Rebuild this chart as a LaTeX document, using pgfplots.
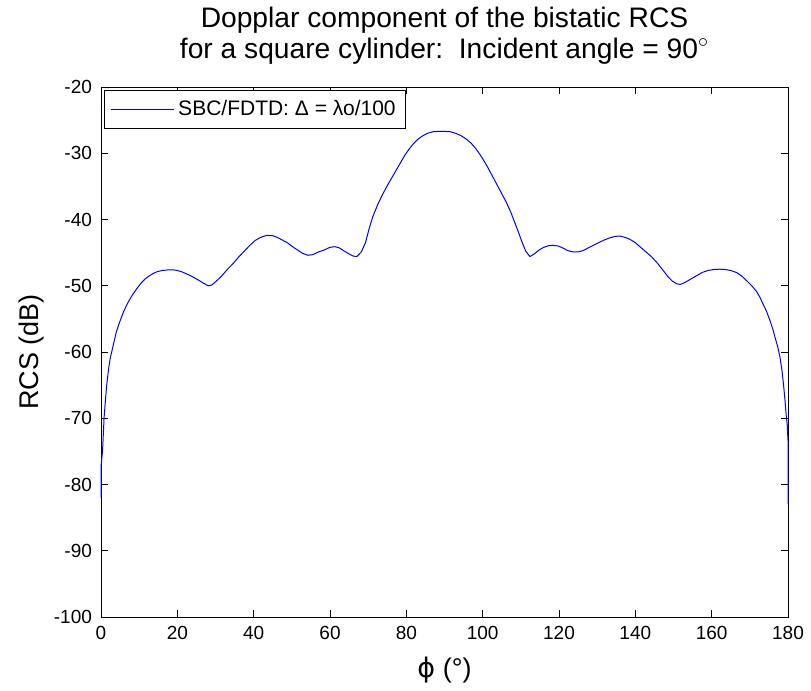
\documentclass[border=0pt]{standalone}
\usepackage{fontspec}
\setmainfont{Liberation Sans}
\newfontfamily\dejavu{DejaVu Sans}
\usepackage{pgfplots}
\pgfplotsset{compat=1.18}

\begin{document}
\begin{tikzpicture}
\begin{axis}[
  scale only axis,
  width=343.5pt, height=265pt,
  xmin=0, xmax=180, ymin=-100, ymax=-20,
  xtick={0,20,...,180},
  ytick={-100,-90,...,-20},
  tick align=inside,
  major tick length=3.5pt,
  clip=false,
  axis line style={line width=0.5pt},
  every tick/.style={black, line width=0.5pt},
  /pgf/number format/assume math mode=true,
  tick label style={font=\fontsize{9.5}{11}\selectfont},
  xticklabel style={yshift=-1pt},
  yticklabel style={xshift=-1pt},
  label style={font=\fontsize{13.5}{16}\selectfont},
  xlabel={{\dejavu ϕ} (°)},
  ylabel={RCS (dB)},
  xlabel style={yshift=-2pt},
  ylabel style={yshift=-2pt},
  title style={font=\fontsize{14.1}{15.5}\selectfont, align=center, yshift=2pt},
  title={Dopplar component of the bistatic RCS\\for a square cylinder:\ \ Incident angle = 90\textsuperscript{$\circ$}},
  legend style={at={(0.004,0.994)}, anchor=north west, draw=black, line width=0.5pt,
    font=\fontsize{10.5}{12}\selectfont, inner xsep=3pt, inner ysep=3pt},
  legend cell align=left,
  legend image code/.code={\draw[#1] (0pt,0pt) -- (31.5pt,0pt);},
]
\addplot[color={rgb,255:red,0;green,0;blue,255}, line width=0.5pt] coordinates {
  (0,-82) (0.05,-77) (0.4,-75) (0.8,-70) (1.2,-67) (1.5,-65) (2,-62.5)
  (2.4,-61) (3.2,-59) (4,-57) (5,-55.3) (6,-53.8) (7,-52.6) (8,-51.6)
  (9.3,-50.5) (10.5,-49.6) (11.5,-49.0) (12.4,-48.6) (13.5,-48.2) (14.6,-47.9)
  (16,-47.7) (17.6,-47.6) (19,-47.6) (20,-47.7) (21.2,-47.9) (22.4,-48.2)
  (23.5,-48.5) (24.5,-48.8) (25.7,-49.2) (26.8,-49.6) (28.1,-50.0) (29,-49.9)
  (30.2,-49.3) (31.5,-48.6) (33,-47.6) (34.7,-46.6) (36,-45.7) (37.5,-44.8)
  (39,-43.9) (40.3,-43.2) (41.8,-42.7) (43.4,-42.4) (45,-42.45) (46.2,-42.7)
  (47.5,-43.1) (48.8,-43.5) (50.2,-44.1) (51.5,-44.6) (52.8,-45.1) (54.2,-45.4)
  (55.5,-45.3) (57,-44.9) (58.5,-44.6) (60,-44.2) (61.3,-44.1) (62.5,-44.3)
  (63.8,-44.8) (65,-45.2) (66,-45.5) (67,-45.6) (68.2,-44.9) (69.3,-43.5)
  (70.2,-41.5) (71.2,-39.6) (72.6,-37.6) (73.8,-36.2) (75,-34.9) (76.2,-33.7)
  (77.4,-32.5) (78.5,-31.4) (79.6,-30.3) (80.7,-29.4) (81.8,-28.6) (83,-27.9)
  (84.2,-27.4) (85.5,-27.0) (87,-26.75) (88.5,-26.7) (90,-26.7) (91.5,-26.75)
  (93,-27.0) (94.5,-27.4) (95.8,-27.9) (97,-28.5) (98.2,-29.3) (99.3,-30.2)
  (100.4,-31.2) (101.5,-32.3) (102.6,-33.5) (103.8,-34.8) (105,-36.1)
  (106.2,-37.4) (107.3,-38.8) (108.3,-40.3) (109.3,-41.8) (110.3,-43.4)
  (111.3,-44.8) (112.4,-45.6) (113.5,-45.2) (114.8,-44.6) (116,-44.2)
  (117.3,-43.95) (118.5,-43.9) (119.8,-44.0) (121,-44.3) (122.3,-44.7)
  (123.7,-44.9) (125,-44.9) (126.3,-44.7) (127.6,-44.3) (129,-43.9)
  (130.4,-43.5) (131.8,-43.1) (133.2,-42.8) (134.6,-42.55) (136,-42.5)
  (137.3,-42.7) (138.6,-43.0) (140,-43.5) (141.2,-44.1) (142.6,-44.8)
  (144.2,-45.6) (145.8,-46.6) (147.3,-47.7) (148.5,-48.6) (149.7,-49.3)
  (150.8,-49.7) (151.8,-49.8) (153,-49.5) (154.5,-49.0) (156,-48.5)
  (157.5,-48.0) (159,-47.7) (160.5,-47.55) (162.1,-47.5) (163.5,-47.55)
  (165,-47.7) (166.5,-48.0) (167.8,-48.5) (169.1,-49.2) (170.5,-50.0)
  (171.8,-50.9) (172.7,-51.8) (173.5,-52.8) (174.4,-53.9) (175.3,-55.3)
  (176,-56.5) (176.6,-57.8) (177.3,-59.2) (177.9,-60.8) (178.4,-62.7)
  (178.8,-64.8) (179.2,-67.2) (179.5,-69.4) (179.8,-71) (180,-73.4) (180,-83)
};
\addlegendentry{SBC/FDTD: Δ = λο/100}
\end{axis}
% fix the page to the reference's margins around the axis box
\path ([shift={(-50.5pt,-36.5pt)}]current axis.south west)
  rectangle ([shift={(11.5pt,41.5pt)}]current axis.north east);
\end{tikzpicture}
\end{document}
